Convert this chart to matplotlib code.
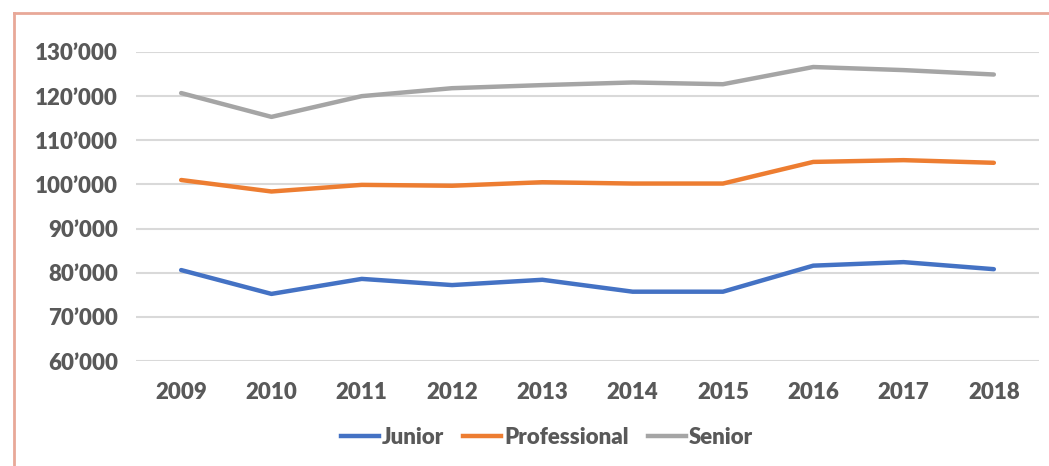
import matplotlib.pyplot as plt
from matplotlib.lines import Line2D
from matplotlib.ticker import FuncFormatter

# salary data
years = [2009, 2010, 2011, 2012, 2013, 2014, 2015, 2016, 2017, 2018]
junior = [80600, 75200, 78600, 77200, 78400, 75700, 75700, 81600, 82400, 80800]
professional = [101000, 98400, 99900, 99700, 100500, 100200, 100200, 105100, 105500, 104900]
senior = [120700, 115300, 120000, 121800, 122500, 123100, 122700, 126600, 125900, 124900]

c_jun = '#4472C4'
c_pro = '#ED7D31'
c_sen = '#A5A5A5'
txt = '#595959'

plt.rcParams['font.family'] = ['Lato', 'DejaVu Sans']

fig = plt.figure(figsize=(10.49, 4.66), dpi=100)
ax = fig.add_axes([136 / 1049, (466 - 361) / 466, 903 / 1049, 309 / 466])

ax.plot(years, junior, color=c_jun, lw=3.2, solid_capstyle='round', label='Junior')
ax.plot(years, professional, color=c_pro, lw=3.2, solid_capstyle='round', label='Professional')
ax.plot(years, senior, color=c_sen, lw=3.2, solid_capstyle='round', label='Senior')

ax.set_xlim(2008.5, 2018.5)
ax.set_ylim(60000, 130000)
ax.set_xticks(years)
ax.set_yticks(range(60000, 130001, 10000))
ax.yaxis.set_major_formatter(FuncFormatter(lambda v, p: f"{int(v) // 1000}\u2019000"))
ax.grid(axis='y', color='#D9D9D9', lw=1.5)
ax.set_axisbelow(True)
for s in ax.spines.values():
    s.set_visible(False)
ax.tick_params(length=0, labelsize=16, labelcolor=txt)
ax.tick_params(axis='y', pad=13)
ax.tick_params(axis='x', pad=15)
for lab in ax.get_xticklabels() + ax.get_yticklabels():
    lab.set_fontweight('heavy')

handles = [Line2D([], [], color=c, lw=3.2) for c in (c_jun, c_pro, c_sen)]
fig.legend(handles, ['Junior', 'Professional', 'Senior'], loc='center',
           bbox_to_anchor=(547 / 1049, 1 - 437 / 466), ncol=3, frameon=False,
           handlelength=1.7, handletextpad=0.15, columnspacing=0.85,
           prop={'weight': 'heavy', 'size': 16}, labelcolor=txt)

# pink frame around the chart (top and left edges visible)
fig.add_artist(Line2D([14 / 1049, 14 / 1049], [0, 1 - 13 / 466], color='#E8A898', lw=2))
fig.add_artist(Line2D([14 / 1049, 1], [1 - 13 / 466, 1 - 13 / 466], color='#E8A898', lw=2))

fig.savefig('out.png', dpi=100)
